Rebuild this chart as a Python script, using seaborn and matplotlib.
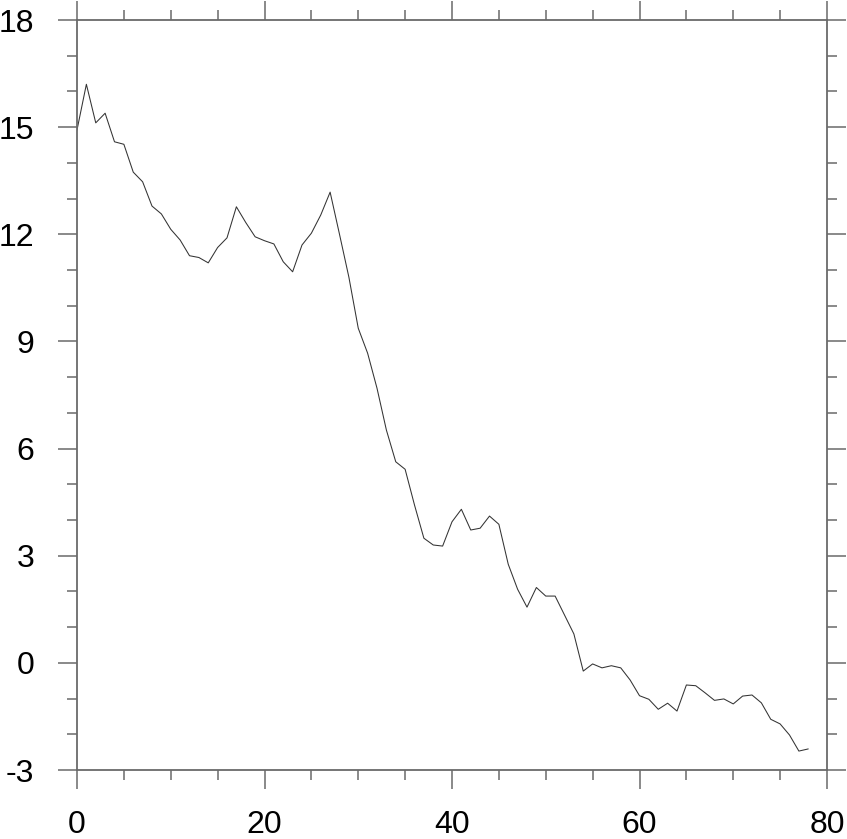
import matplotlib
matplotlib.use("Agg")
import matplotlib.pyplot as plt
from matplotlib.ticker import MultipleLocator
import seaborn as sns
import pandas as pd

x_values = list(range(0, 79))
y_values = [14.92, 16.20, 15.12, 15.39, 14.59, 14.52, 13.74, 13.47, 12.79, 12.57,
            12.14, 11.84, 11.40, 11.35, 11.20, 11.63, 11.90, 12.77, 12.33, 11.93,
            11.82, 11.73, 11.23, 10.95, 11.70, 12.03, 12.54, 13.18, 12.00, 10.80,
            9.37, 8.67, 7.69, 6.52, 5.63, 5.42, 4.42, 3.49, 3.30, 3.27,
            3.95, 4.30, 3.72, 3.77, 4.11, 3.88, 2.76, 2.06, 1.56, 2.11,
            1.87, 1.87, 1.34, 0.81, -0.23, -0.03, -0.14, -0.08, -0.14, -0.48,
            -0.92, -1.02, -1.30, -1.13, -1.35, -0.62, -0.64, -0.84, -1.05, -1.01,
            -1.15, -0.93, -0.90, -1.12, -1.58, -1.71, -2.02, -2.47, -2.41]
x_ticks = [0, 20, 40, 60, 80]
y_ticks = [-3, 0, 3, 6, 9, 12, 15, 18]

sns.set_style("white")
plt.rcParams['font.family'] = ['Liberation Sans', 'DejaVu Sans']

df = pd.DataFrame({"x": x_values, "y": y_values})

fig = plt.figure(figsize=(8.47, 8.39), dpi=100)
ax = fig.add_axes([77 / 847, 1 - 770 / 839, 750 / 847, 750 / 839])
sns.lineplot(data=df, x="x", y="y", ax=ax, color="#333333", linewidth=0.75)

ax.set_xlim(0, 80)
ax.set_ylim(-3, 18)
ax.set_xticks(x_ticks)
ax.set_yticks(y_ticks)
ax.set_xticklabels([str(v) for v in x_ticks])
ax.set_yticklabels([str(v) for v in y_ticks])
ax.xaxis.set_minor_locator(MultipleLocator(5))
ax.yaxis.set_minor_locator(MultipleLocator(1))
ax.set_xlabel("")
ax.set_ylabel("")

spine_color = "#6a6a6a"
for s in ax.spines.values():
    s.set_visible(True)
    s.set_color(spine_color)
    s.set_linewidth(1.3)

ax.tick_params(which="both", direction="out", color=spine_color, width=1.1,
               top=True, right=True, bottom=True, left=True,
               labeltop=False, labelright=False)
ax.tick_params(which="major", length=13.7)
ax.tick_params(which="minor", length=7.2)
ax.tick_params(axis="y", which="major", pad=17, labelsize=23, labelcolor="black")
ax.tick_params(axis="x", which="major", pad=15, labelsize=23, labelcolor="black")

fig.savefig("out.png", dpi=100)
